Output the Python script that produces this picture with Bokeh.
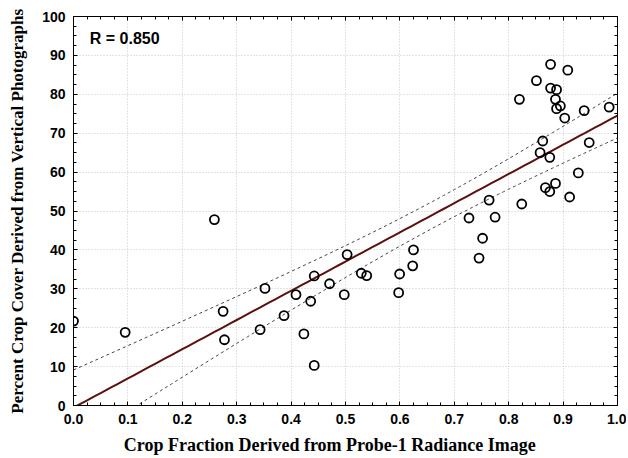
import numpy as np
from bokeh.plotting import figure
from bokeh.models import LinearAxis, Label, FixedTicker, Range1d, CustomJSTickFormatter
from bokeh.embed import file_html
from bokeh.resources import INLINE

# Crop fraction (Probe-1 radiance image) vs percent crop cover (vertical photographs)
crop_fraction = [0.0, 0.095, 0.259, 0.275, 0.2775, 0.352, 0.343, 0.387, 0.409, 0.4235,
                 0.436, 0.4425, 0.4425, 0.4707, 0.4977, 0.503, 0.529, 0.539, 0.5995, 0.5977,
                 0.625, 0.6235, 0.7455, 0.752, 0.877, 0.9086, 0.851, 0.877, 0.888, 0.8197,
                 0.886, 0.895, 0.888, 0.9387, 0.9847, 0.903, 0.8626, 0.948, 0.8577, 0.8755,
                 0.928, 0.8675, 0.886, 0.8755, 0.912, 0.824, 0.764, 0.727, 0.775]
crop_cover = [21.7, 18.8, 47.8, 24.2, 16.9, 30.1, 19.5, 23.1, 28.5, 18.4,
              26.8, 33.3, 10.3, 31.3, 28.5, 38.8, 34.0, 33.4, 33.8, 29.0,
              40.0, 35.9, 37.9, 43.0, 87.7, 86.2, 83.5, 81.6, 81.2, 78.7,
              78.7, 77.0, 76.3, 75.8, 76.7, 73.9, 68.0, 67.6, 65.0, 63.8,
              59.8, 56.0, 57.1, 55.0, 53.6, 51.8, 52.8, 48.2, 48.4]
r_label = "R = 0.850"
x_title = "Crop Fraction Derived from Probe-1 Radiance Image"
y_title = "Percent Crop Cover Derived from Vertical Photographs"
x_ticks = [0.0, 0.1, 0.2, 0.3, 0.4, 0.5, 0.6, 0.7, 0.8, 0.9, 1.0]
y_ticks = [0, 10, 20, 30, 40, 50, 60, 70, 80, 90, 100]

x = np.array(crop_fraction)
y = np.array(crop_cover)
n = len(x)
b, a = np.polyfit(x, y, 1)
resid = y - (a + b * x)
s = np.sqrt(np.sum(resid ** 2) / (n - 2))
xbar = x.mean()
sxx = np.sum((x - xbar) ** 2)
t = 2.012
xs = np.linspace(0, 1, 101)
yfit = a + b * xs
half = t * s * np.sqrt(1.0 / n + (xs - xbar) ** 2 / sxx)

p = figure(width=626, height=458, output_backend="svg", toolbar_location=None,
           x_range=Range1d(0, 1), y_range=Range1d(0, 100),
           min_border_left=73, min_border_right=9, min_border_top=16, min_border_bottom=53)
p.outline_line_color = "black"
p.outline_line_width = 1
p.background_fill_color = "white"
p.border_fill_color = "white"

xt = FixedTicker(ticks=x_ticks, minor_ticks=list(np.round(np.arange(0, 1.0001, 0.025), 4)))
yt = FixedTicker(ticks=y_ticks, minor_ticks=list(np.arange(0, 100.01, 2.5)))

def style(ax, labels=True, title_px="17px"):
    ax.major_tick_in = 4
    ax.major_tick_out = 0
    ax.minor_tick_in = 3
    ax.minor_tick_out = 0
    ax.axis_line_color = "black"
    ax.major_tick_line_color = "black"
    ax.minor_tick_line_color = "black"
    if labels:
        ax.major_label_text_font = "Liberation Sans"
        ax.major_label_text_font_style = "bold"
        ax.major_label_text_font_size = "14px"
        ax.major_label_text_color = "black"
        ax.axis_label_text_font = "Liberation Serif"
        ax.axis_label_text_font_style = "bold"
        ax.axis_label_text_font_size = title_px
        ax.axis_label_text_color = "black"
    else:
        ax.formatter = CustomJSTickFormatter(code="return ''")
        ax.major_label_standoff = 0

p.xaxis.ticker = xt
p.yaxis.ticker = yt
# trailing no-break spaces shift the centred title left, as in the original
p.xaxis.axis_label = x_title + "\u00a0" * 7
p.yaxis.axis_label = y_title
p.xaxis.major_label_overrides = {v: f"{v:.1f}" for v in x_ticks}
p.xaxis.major_label_standoff = 8
p.yaxis.major_label_standoff = 8
p.xaxis.axis_label_standoff = 8
p.yaxis.axis_label_standoff = 12
style(p.xaxis[0], title_px="18px")
style(p.yaxis[0], title_px="17px")

top = LinearAxis(ticker=xt)
right = LinearAxis(ticker=yt)
style(top, labels=False)
style(right, labels=False)
p.add_layout(top, "above")
p.add_layout(right, "right")

p.xgrid.ticker = xt
p.ygrid.ticker = yt
p.grid.grid_line_color = "#c8c8c8"
p.grid.grid_line_dash = "1 2"
p.grid.grid_line_width = 1

p.line(xs, a + b * xs, line_color="#5c1010", line_width=2)
p.line(xs, yfit + half, line_color="#444444", line_width=1, line_dash="3 3")
p.line(xs, yfit - half, line_color="#444444", line_width=1, line_dash="3 3")

p.scatter(x, y, marker="circle", size=9, fill_color=None, line_color="black", line_width=1.8)

p.add_layout(Label(x=0.03, y=94.4, text=r_label, text_font="Liberation Sans",
                   text_font_style="bold", text_font_size="16px", text_color="black",
                   text_baseline="middle"))

open("out.html", "w").write(file_html(p, INLINE))
